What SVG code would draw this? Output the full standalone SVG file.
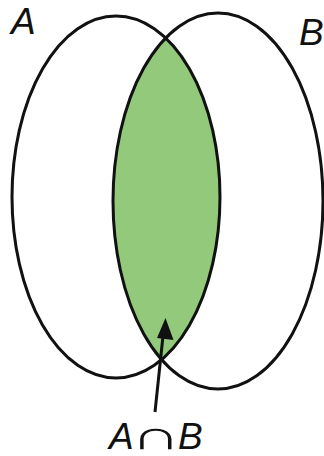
<svg xmlns="http://www.w3.org/2000/svg" width="324" height="456" viewBox="0 0 324 456">
  <style>
    .outline { fill: none; stroke: #111; stroke-width: 3; }
    .lbl { font-family: "Liberation Sans", Arial, sans-serif; font-style: italic; font-size: 37px; fill: #111; }
    .sym { font-family: "DejaVu Sans", sans-serif; font-weight: 200; font-size: 70px; fill: #111; }
  </style>
  <defs>
    <clipPath id="clipA">
      <ellipse cx="116" cy="197" rx="104" ry="181"/>
    </clipPath>
  </defs>
  <rect width="324" height="456" fill="#fff"/>
  <g id="intersection">
    <ellipse cx="218" cy="201" rx="105" ry="188" fill="#93c97b" clip-path="url(#clipA)"/>
  </g>
  <g id="setA">
    <ellipse class="outline" cx="116" cy="197" rx="104" ry="181"/>
    <text class="lbl" x="11" y="34">A</text>
  </g>
  <g id="setB">
    <ellipse class="outline" cx="218" cy="201" rx="105" ry="188"/>
    <text class="lbl" x="299" y="45">B</text>
  </g>
  <g id="connectors">
    <line x1="155" y1="412" x2="163" y2="336" stroke="#111" stroke-width="3"/>
    <path d="M165.5,318 L173.5,340 L157,338 z" fill="#111"/>
  </g>
  <g id="label">
    <text class="lbl" x="109" y="449">A</text>
    <text class="sym" transform="translate(155.5,449) scale(1,0.58)" x="0" y="0" text-anchor="middle">∩</text>
    <text class="lbl" x="178" y="449">B</text>
  </g>
</svg>
